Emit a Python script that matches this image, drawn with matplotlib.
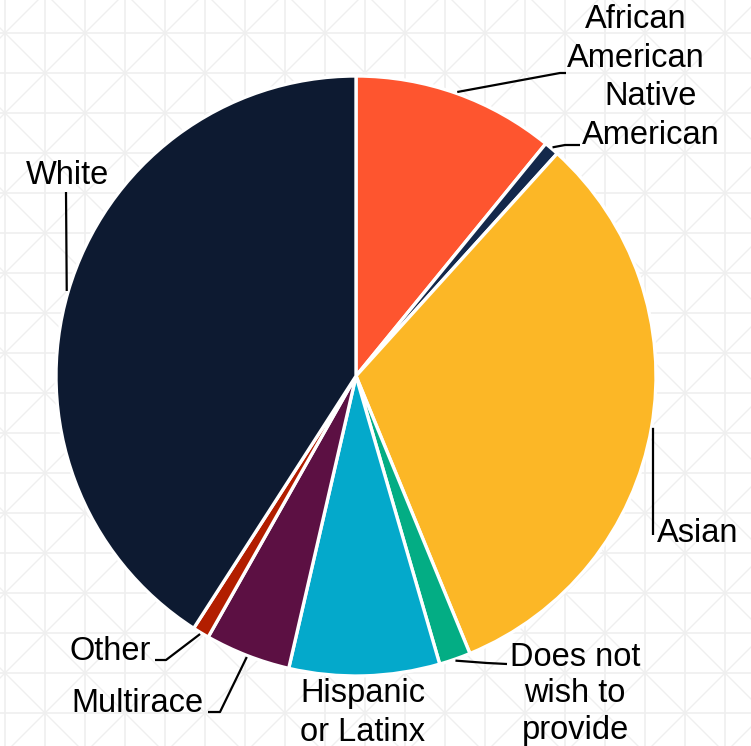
import numpy as np
import matplotlib.pyplot as plt

plt.rcParams['font.family'] = ['Liberation Sans', 'DejaVu Sans']

# Data (percent, clockwise from top)
labels = ['African\nAmerican', 'Native\nAmerican', 'Asian', 'Does not\nwish to\nprovide',
          'Hispanic\nor Latinx', 'Multirace', 'Other', 'White']
shares = [10.9, 0.8, 32.1, 1.7, 8.1, 4.6, 0.9, 40.9]
colors = ['#fe552f', '#14284b', '#fcb726', '#03ad84', '#04a9cb', '#5c1043', '#b21e00', '#0d1a31']

W, H = 751, 746
cx, cy, R = 356, 376, 300

fig = plt.figure(figsize=(W / 100, H / 100), dpi=100)

# background lattice (pixel coords)
bg = fig.add_axes([0, 0, 1, 1])
bg.set_xlim(0, W)
bg.set_ylim(H, 0)
bg.axis('off')
gc = '#efefef'
for x in np.arange(5, W + 40, 40):
    bg.plot([x, x], [0, H], color=gc, lw=1.2, zorder=0)
for y in np.arange(-7, H + 40, 40):
    bg.plot([0, W], [y, y], color=gc, lw=1.2, zorder=0)
for c in np.arange(-800, 1600, 80):
    bg.plot([0, W], [118 + c, 118 + c - W], color=gc, lw=1.0, zorder=0)
    bg.plot([0, W], [28 + c, 28 + c + W], color=gc, lw=1.0, zorder=0)

ax = fig.add_axes([0, 0, 1, 1])
ax.patch.set_alpha(0)

wedges, _ = ax.pie(shares, colors=colors, startangle=90, counterclock=False,
                   radius=1, wedgeprops=dict(edgecolor='white', linewidth=2.4))
ax.set_aspect('auto')
ax.set_xlim(-cx / R, (W - cx) / R)
ax.set_ylim(-(H - cy) / R, cy / R)
ax.axis('off')


def d(px, py):
    return ((px - cx) / R, (cy - py) / R)


def leader(w, pts):
    ang = np.deg2rad((w.theta1 + w.theta2) / 2)
    xs = [np.cos(ang) * 1.005] + [d(*p)[0] for p in pts]
    ys = [np.sin(ang) * 1.005] + [d(*p)[1] for p in pts]
    ax.plot(xs, ys, color='black', lw=1.6, solid_capstyle='butt')


fs = 23.5
ls = 1.3
# African American
leader(wedges[0], [(560, 73), (566, 73)])
ax.text(*d(636, 39), labels[0], ha='center', va='center', fontsize=fs, linespacing=ls)
# Native American
leader(wedges[1], [(565, 145), (580, 145)])
ax.text(*d(651, 116), labels[1], ha='center', va='center', fontsize=fs, linespacing=ls)
# Asian
leader(wedges[2], [(653, 535)])
ax.text(*d(657, 534), labels[2], ha='left', va='center', fontsize=fs)
# Does not wish to provide
leader(wedges[3], [(487, 663), (507, 664)])
ax.text(*d(575, 694), labels[3], ha='center', va='center', fontsize=fs, linespacing=1.24)
# Hispanic
ax.text(*d(363, 713), labels[4], ha='center', va='center', fontsize=fs, linespacing=ls)
# Multirace
leader(wedges[5], [(220, 712), (208, 712)])
ax.text(*d(203, 704), labels[5], ha='right', va='center', fontsize=fs)
# Other
leader(wedges[6], [(166, 660), (155, 660)])
ax.text(*d(151, 651), labels[6], ha='right', va='center', fontsize=fs)
# White
leader(wedges[7], [(66, 192)])
ax.text(*d(67, 175), labels[7], ha='center', va='center', fontsize=fs)

fig.savefig('out.png', dpi=100)
